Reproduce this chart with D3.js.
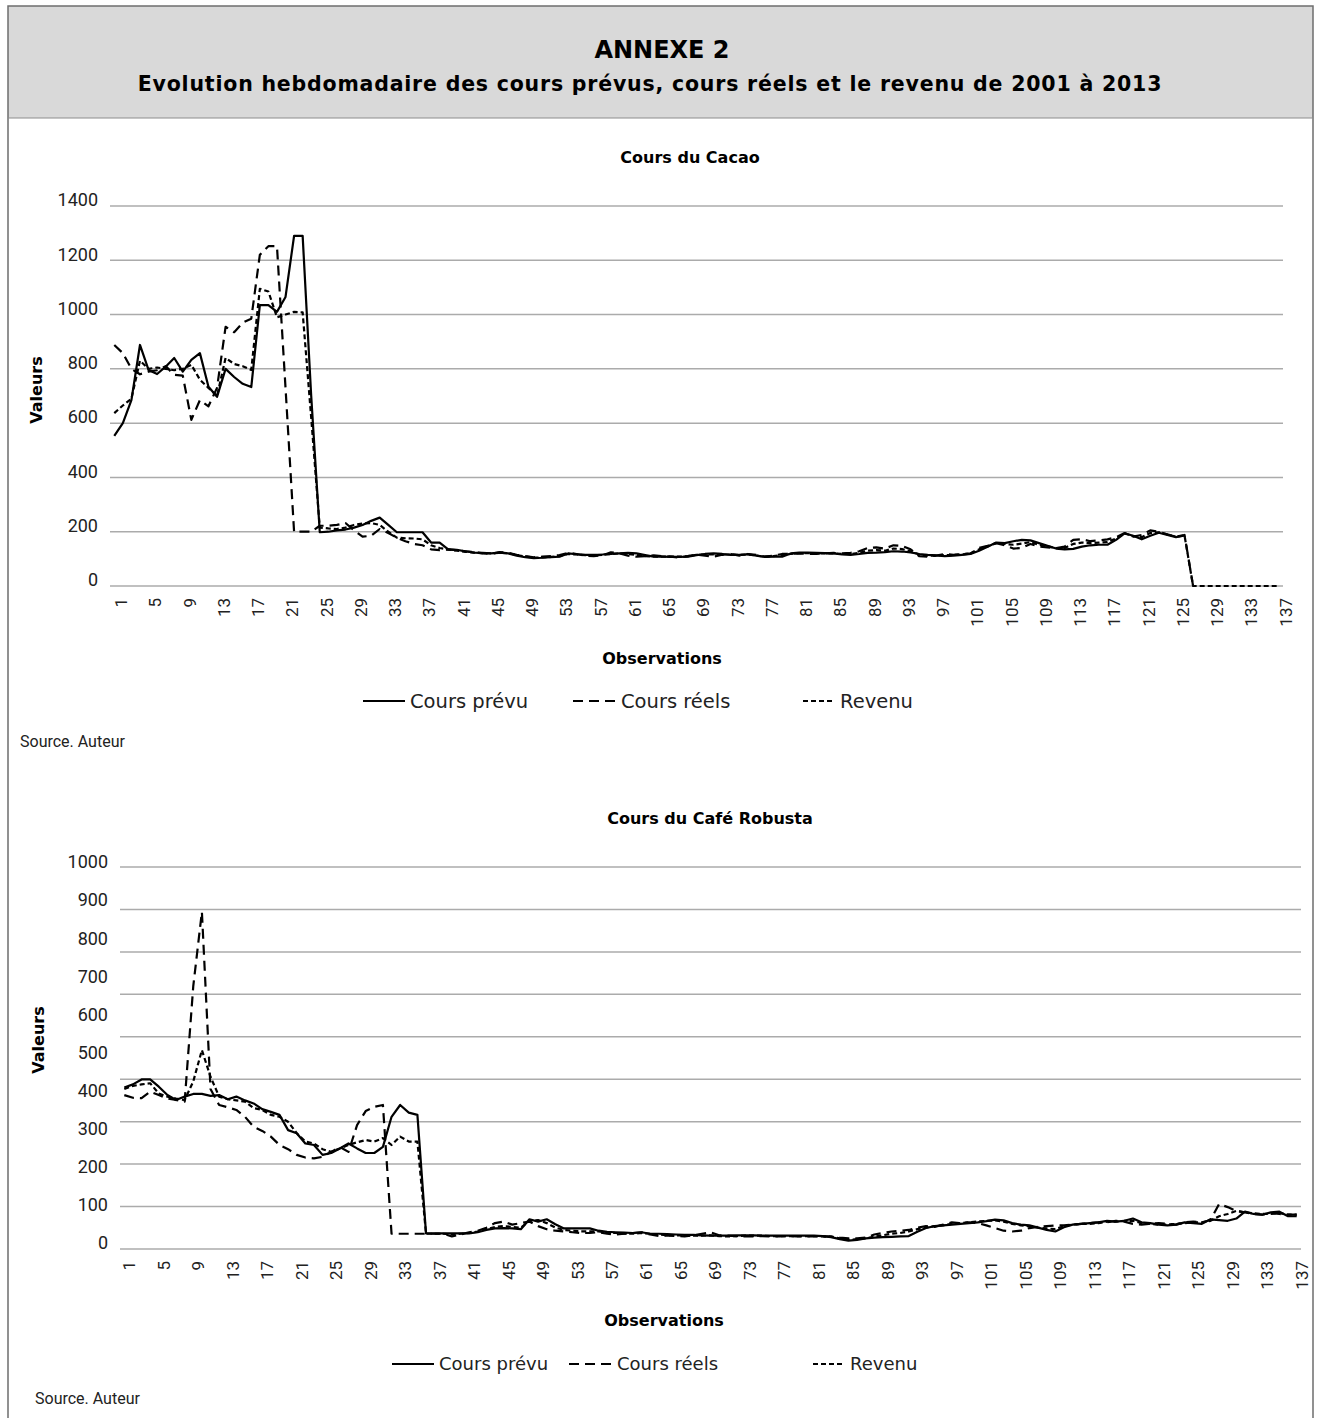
<!DOCTYPE html>
<html lang="fr">
<head>
<meta charset="UTF-8">
<title>Annexe 2</title>
<script src="https://cdn.jsdelivr.net/npm/d3@7/dist/d3.min.js"></script>
<style>
  body { margin: 0; background: #fff; }
  svg { display: block; font-family: Roboto, "DejaVu Sans", sans-serif; }
  .wide { font-family: "DejaVu Sans", sans-serif; }
</style>
</head>
<body>
<svg id="fig" width="1321" height="1418"></svg>
<script>
// ---------- data ----------
const seriesNames = ["Cours prévu", "Cours réels", "Revenu"];
const observations = d3.range(1, 138);   // 137 weekly observations

const cacaoTicks = [0, 200, 400, 600, 800, 1000, 1200, 1400];
const cafeTicks = [0, 100, 200, 300, 400, 500, 600, 700, 800, 900, 1000];

const cacaoPrevu = [553,600,685,888,796,781,808,840,790,833,
  858,734,697,800,770,745,733,1035,1035,1010,
  1065,1290,1290,700,198,200,205,208,215,225,
  240,252,225,198,198,198,198,160,160,135,
  133,128,123,122,120,123,120,112,106,103,
  104,106,108,120,117,115,115,116,118,120,
  122,120,114,108,108,107,107,108,114,118,
  120,118,115,115,117,112,107,108,108,120,
  123,123,122,121,120,116,115,118,122,123,
  125,128,127,124,118,115,113,110,112,115,
  118,130,145,160,158,165,170,168,158,148,
  138,135,137,145,150,152,152,170,194,185,
  172,185,196,188,180,186,
  null,null,null,null,null,null,null,null,null,null,null];

const cacaoReels = [888,858,800,780,790,795,810,778,775,612,
  685,662,730,955,935,970,985,1220,1252,1252,
  730,200,200,200,222,222,225,232,205,182,
  185,210,195,178,165,155,150,135,132,135,
  132,128,125,120,118,125,122,115,110,106,
  108,110,114,122,118,112,110,113,124,120,
  112,108,110,113,110,108,105,110,116,112,
  108,115,118,112,118,115,108,112,118,118,
  120,118,118,120,122,120,122,128,140,142,
  138,150,148,135,110,108,112,118,115,118,
  120,140,148,158,150,138,140,155,145,142,
  140,145,170,172,165,168,172,180,195,182,
  188,205,200,190,182,188,0,
  null,null,null,null,null,null,null,null,null,null];

const cacaoRevenu = [637,665,690,830,800,805,800,795,800,815,
  760,730,700,840,818,810,796,1095,1085,990,
  1000,1010,1008,620,215,212,210,215,225,230,
  232,225,200,178,176,175,172,150,140,135,
  130,126,123,121,120,122,121,114,108,105,
  105,107,110,118,116,114,113,115,118,120,
  118,114,110,109,108,108,108,110,115,116,
  116,116,116,114,116,112,108,110,114,118,
  121,121,120,120,120,118,118,122,130,132,
  130,138,136,128,116,112,112,114,114,116,
  119,135,146,158,155,152,156,162,152,146,
  140,140,155,160,158,160,162,175,194,184,
  180,195,198,190,182,186,
  0,0,0,0,0,0,0,0,0,0,0];

const cafePrevu = [424,432,445,445,426,404,391,400,407,407,
  402,404,393,400,390,382,367,360,352,312,
  304,277,273,247,252,264,277,264,252,252,
  268,347,378,358,352,41,41,41,41,41,
  41,44,50,54,55,54,52,78,72,78,
  65,54,54,54,54,48,45,44,43,42,
  44,40,40,39,38,37,37,36,35,35,
  35,36,36,36,35,35,35,35,35,35,
  35,34,31,26,22,24,28,30,31,32,
  33,34,45,55,60,62,64,66,68,70,
  73,77,75,68,64,62,56,50,46,57,
  64,66,68,70,74,72,74,80,70,68,
  64,62,64,70,68,66,78,76,74,80,
  98,92,90,96,98,86,86];

const cafeReels = [404,397,396,413,404,395,391,387,690,885,
  420,378,372,365,347,321,310,295,273,262,
  247,240,238,242,255,268,255,325,362,373,
  378,40,40,40,40,40,40,40,33,38,
  44,48,56,68,72,64,68,72,60,52,
  48,46,44,42,42,44,40,38,40,42,
  44,38,34,36,34,33,36,40,44,36,
  35,34,33,33,34,33,33,34,33,33,
  33,33,33,30,28,28,30,38,42,46,
  48,50,56,60,58,64,70,68,70,68,
  62,55,48,46,48,55,58,60,62,62,
  64,66,68,70,70,74,72,66,64,66,
  68,66,64,70,72,70,76,118,110,100,
  96,92,90,94,92,90,90];

const cafeRevenu = [420,428,432,435,408,400,395,391,440,522,
  452,400,393,390,387,370,365,352,347,334,
  304,282,277,262,255,264,273,280,286,282,
  291,273,295,282,282,40,40,40,38,40,
  42,46,52,58,60,58,56,74,76,68,
  56,50,48,46,46,46,44,42,40,40,
  42,40,38,36,36,36,35,35,36,34,
  33,34,35,35,35,34,34,34,34,34,
  34,33,32,28,24,26,28,32,36,40,
  42,46,52,56,60,62,66,68,70,72,
  74,75,72,66,62,60,56,54,52,60,
  64,66,66,68,72,72,74,74,68,66,
  64,64,66,68,70,70,74,86,92,100,
  96,94,92,92,94,90,90];

// ---------- styles ----------
const dashes = ["none", "10,6", "5,3"];
const legendSample = [42, 43, 32];

const svg = d3.select("#fig");

// frame + header band
svg.append("rect").attr("x", 8).attr("y", 6).attr("width", 1305).attr("height", 112)
  .attr("fill", "#d9d9d9");
svg.append("path").attr("d", "M8,1418 V6 H1313 V1418")
  .attr("fill", "none").attr("stroke", "#6e6e6e").attr("stroke-width", 1.5);
svg.append("line").attr("x1", 8).attr("x2", 1313).attr("y1", 118).attr("y2", 118)
  .attr("stroke", "#8c8c8c").attr("stroke-width", 1);

svg.append("text").attr("class", "wide").attr("x", 662).attr("y", 58).attr("text-anchor", "middle")
  .attr("font-size", 24).attr("font-weight", "bold").text("ANNEXE 2");
svg.append("text").attr("class", "wide").attr("x", 650).attr("y", 91).attr("text-anchor", "middle")
  .attr("font-size", 20.5).attr("font-weight", "bold").attr("letter-spacing", 0.8)
  .text("Evolution hebdomadaire des cours prévus, cours réels et le revenu de 2001 à 2013");

function drawChart(cfg) {
  const g = svg.append("g");

  const x = d3.scaleBand().domain(observations).range([cfg.left, cfg.right]);
  const cx = i => x(i) + x.bandwidth() / 2;
  const y = d3.scaleLinear().domain([0, cfg.max]).range([cfg.bottom, cfg.top]);

  // horizontal gridlines
  g.append("g").selectAll("line").data(cfg.grid).join("line")
    .attr("x1", cfg.left).attr("x2", cfg.right)
    .attr("y1", d => cfg.gridY(d)).attr("y2", d => cfg.gridY(d))
    .attr("stroke", "#ababab").attr("stroke-width", 1.5);

  // y tick labels
  g.append("g").selectAll("text").data(cfg.ticks).join("text")
    .attr("x", cfg.labelX).attr("y", d => cfg.labelY(y, d))
    .attr("dy", "0.35em").attr("text-anchor", "end")
    .attr("font-size", 18).attr("fill", "#222").text(d => d);

  // x tick labels, every 4th observation, rotated
  g.append("g").selectAll("text").data(observations.filter(i => i % 4 === 1)).join("text")
    .attr("transform", d => `translate(${cx(d) + cfg.xLabelShift},${cfg.bottom + 12}) rotate(-90)`)
    .attr("dy", "0.35em").attr("text-anchor", "end")
    .attr("font-size", 17).attr("fill", "#222").text(d => d);

  // series lines
  const line = d3.line().defined(d => d.v != null)
    .x(d => cx(d.i)).y(d => y(d.v));
  cfg.series.forEach((vals, k) => {
    g.append("path")
      .datum(observations.map((i, j) => ({ i, v: vals[j] })))
      .attr("d", line)
      .attr("fill", "none").attr("stroke", "#000").attr("stroke-width", 2.2)
      .attr("stroke-dasharray", dashes[k]).attr("stroke-linejoin", "round");
  });

  // titles
  g.append("text").attr("class", "wide").attr("x", cfg.titleX).attr("y", cfg.titleY)
    .attr("text-anchor", "middle").attr("font-size", 16).attr("font-weight", "bold").text(cfg.title);
  g.append("text").attr("class", "wide")
    .attr("transform", `translate(${cfg.yTitleX},${cfg.yTitleY}) rotate(-90)`)
    .attr("text-anchor", "middle").attr("dy", "0.35em")
    .attr("font-size", 16).attr("font-weight", "bold").text("Valeurs");
  g.append("text").attr("class", "wide").attr("x", cfg.obsX).attr("y", cfg.obsY)
    .attr("text-anchor", "middle").attr("dy", "0.35em")
    .attr("font-size", 16).attr("font-weight", "bold").text("Observations");

  // legend
  const lg = g.append("g").selectAll("g").data(seriesNames).join("g")
    .attr("transform", (d, k) => `translate(${cfg.legendX[k]},${cfg.legendY})`);
  lg.append("line").attr("x1", 0).attr("x2", (d, k) => legendSample[k])
    .attr("stroke", "#000").attr("stroke-width", 2.2)
    .attr("stroke-dasharray", (d, k) => dashes[k]);
  lg.append("text").attr("class", "wide").attr("x", (d, k) => legendSample[k] + 5).attr("dy", "0.35em")
    .attr("font-size", cfg.legendSize).attr("fill", "#222").text(d => d);

  g.append("text").attr("x", cfg.sourceX).attr("y", cfg.sourceY).attr("dy", "0.35em")
    .attr("font-size", 16).attr("fill", "#222").text(cfg.source);
}

drawChart({
  title: "Cours du Cacao", titleX: 690, titleY: 163,
  left: 110, right: 1283, top: 206, bottom: 586, max: 1400,
  ticks: cacaoTicks, labelX: 98,
  labelY: (y, d) => y(d) - 6,
  grid: cacaoTicks, gridY: d => 586 - (586 - 206) * d / 1400,
  xLabelShift: 7,
  series: [cacaoPrevu, cacaoReels, cacaoRevenu],
  yTitleX: 36, yTitleY: 390,
  obsX: 662, obsY: 658,
  legendX: [363, 573, 803], legendY: 701, legendSize: 19.5,
  sourceX: 20, sourceY: 741, source: "Source.  Auteur"
});

drawChart({
  title: "Cours du Café Robusta", titleX: 710, titleY: 824,
  left: 120, right: 1301, top: 868, bottom: 1249, max: 1000,
  ticks: cafeTicks, labelX: 108,
  labelY: (y, d) => y(d) - 6,
  grid: d3.range(10), gridY: d => 1249 - (1249 - 867) * d / 9,
  xLabelShift: 5,
  series: [cafePrevu, cafeReels, cafeRevenu],
  yTitleX: 38, yTitleY: 1040,
  obsX: 664, obsY: 1320,
  legendX: [392, 569, 813], legendY: 1364, legendSize: 18,
  sourceX: 35, sourceY: 1398, source: "Source. Auteur"
});
</script>
</body>
</html>
